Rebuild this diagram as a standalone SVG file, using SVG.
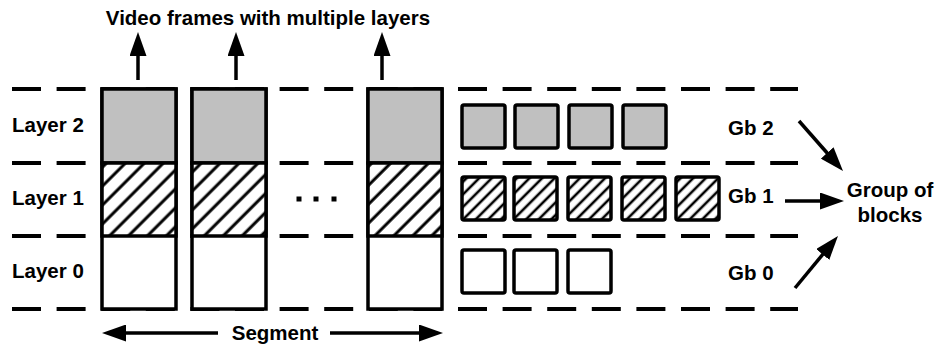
<svg xmlns="http://www.w3.org/2000/svg" width="938" height="344" viewBox="0 0 938 344">
  <defs>
    <style>
      text { font-family: "Liberation Sans", Arial, sans-serif; font-weight: bold; font-size: 20.5px; fill: #000; }
      .dash { stroke: #000; stroke-width: 4; stroke-dasharray: 29 15.6; fill: none; }
      .frame { stroke: #000; stroke-width: 3.5; }
      .blk { stroke: #000; stroke-width: 3.5; }
      .gray { fill: #c0c0c0; }
      .white { fill: #fff; }
      .hatchL { fill: url(#hatchLarge); }
      .hatchS { fill: url(#hatchSmall); }
      .line { stroke: #000; stroke-width: 3.5; fill: none; }
    </style>
    <pattern id="hatchLarge" patternUnits="userSpaceOnUse" width="13.4" height="13.4" patternTransform="rotate(45)">
      <rect width="13.4" height="13.4" fill="#fff"/>
      <line x1="3" y1="0" x2="3" y2="13.4" stroke="#000" stroke-width="3"/>
    </pattern>
    <pattern id="hatchSmall" patternUnits="userSpaceOnUse" width="8.9" height="8.9" patternTransform="rotate(45)">
      <rect width="8.9" height="8.9" fill="#fff"/>
      <line x1="2" y1="0" x2="2" y2="8.9" stroke="#000" stroke-width="2.6"/>
    </pattern>
    <!-- filled arrowhead; its tip sits 10px beyond the line end -->
    <marker id="head" viewBox="0 0 24 17" refX="14" refY="8.5" markerWidth="24" markerHeight="17" markerUnits="userSpaceOnUse" orient="auto">
      <path d="M0,0 L24,8.5 L0,17 Z" fill="#000"/>
    </marker>
  </defs>

  <rect width="938" height="344" fill="#fff"/>

  <!-- layer boundaries -->
  <g id="guides">
    <line class="dash" x1="12" y1="89" x2="798" y2="89"/>
    <line class="dash" x1="12" y1="163" x2="798" y2="163"/>
    <line class="dash" x1="12" y1="236" x2="798" y2="236"/>
    <line class="dash" x1="12" y1="309" x2="798" y2="309"/>
  </g>

  <g id="title"><text x="268" y="25" text-anchor="middle">Video frames with multiple layers</text></g>

  <g id="layer-labels">
    <text x="12" y="132">Layer 2</text>
    <text x="12" y="205">Layer 1</text>
    <text x="12" y="278">Layer 0</text>
  </g>

  <!-- video frames, each split into three layers -->
  <g id="frame1">
    <rect class="frame white" x="102" y="89" width="74" height="220"/>
    <rect class="frame gray" x="102" y="89" width="74" height="74"/>
    <rect class="frame hatchL" x="102" y="163" width="74" height="73"/>
  </g>
  <g id="frame2">
    <rect class="frame white" x="192" y="89" width="74" height="220"/>
    <rect class="frame gray" x="192" y="89" width="74" height="74"/>
    <rect class="frame hatchL" x="192" y="163" width="74" height="73"/>
  </g>
  <g id="frame3">
    <rect class="frame white" x="368" y="89" width="74" height="220"/>
    <rect class="frame gray" x="368" y="89" width="74" height="74"/>
    <rect class="frame hatchL" x="368" y="163" width="74" height="73"/>
  </g>

  <g id="ellipsis">
    <rect x="296.5" y="196.5" width="5" height="5"/>
    <rect x="313.5" y="196.5" width="5" height="5"/>
    <rect x="331.5" y="196.5" width="5" height="5"/>
  </g>

  <!-- groups of blocks -->
  <g id="gb2-blocks">
    <rect class="blk gray" x="462" y="105" width="43" height="43" rx="2"/>
    <rect class="blk gray" x="515" y="105" width="43" height="43" rx="2"/>
    <rect class="blk gray" x="569" y="105" width="43" height="43" rx="2"/>
    <rect class="blk gray" x="623" y="105" width="43" height="43" rx="2"/>
  </g>
  <g id="gb1-blocks">
    <rect class="blk hatchS" x="462" y="177" width="43" height="43" rx="2"/>
    <rect class="blk hatchS" x="514" y="177" width="43" height="43" rx="2"/>
    <rect class="blk hatchS" x="568" y="177" width="43" height="43" rx="2"/>
    <rect class="blk hatchS" x="622" y="177" width="43" height="43" rx="2"/>
    <rect class="blk hatchS" x="676" y="177" width="43" height="43" rx="2"/>
  </g>
  <g id="gb0-blocks">
    <rect class="blk white" x="462" y="250" width="43" height="43" rx="2"/>
    <rect class="blk white" x="514" y="250" width="43" height="43" rx="2"/>
    <rect class="blk white" x="568" y="250" width="43" height="43" rx="2"/>
  </g>

  <g id="gb-labels">
    <text x="728" y="135">Gb 2</text>
    <text x="728" y="203">Gb 1</text>
    <text x="728" y="280">Gb 0</text>
  </g>

  <g id="group-of-blocks">
    <text x="890" y="197" text-anchor="middle">Group of</text>
    <text x="890" y="222" text-anchor="middle">blocks</text>
  </g>

  <g id="segment-label"><text x="275" y="340" text-anchor="middle">Segment</text></g>

  <!-- connectors -->
  <g id="connectors">
    <line class="line" x1="138" y1="80" x2="138" y2="42" marker-end="url(#head)"/>
    <line class="line" x1="236" y1="80" x2="236" y2="42" marker-end="url(#head)"/>
    <line class="line" x1="382" y1="80" x2="382" y2="42" marker-end="url(#head)"/>
    <line class="line" x1="218" y1="333" x2="112" y2="333" marker-end="url(#head)"/>
    <line class="line" x1="330" y1="333" x2="433" y2="333" marker-end="url(#head)"/>
    <line class="line" x1="799" y1="121" x2="836.4" y2="163.5" marker-end="url(#head)"/>
    <line class="line" x1="785" y1="201" x2="834" y2="201" marker-end="url(#head)"/>
    <line class="line" x1="795" y1="288" x2="831.6" y2="243.7" marker-end="url(#head)"/>
  </g>
</svg>
